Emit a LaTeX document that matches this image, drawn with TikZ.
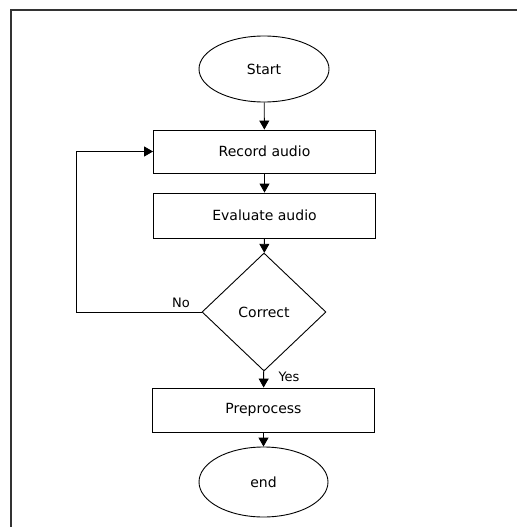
\documentclass[tikz,border=0pt]{standalone}
\usepackage{fontspec}
\setmainfont{DejaVu Sans}
\usetikzlibrary{
  shapes.geometric,
  arrows.meta
}

\tikzset{
  flowline/.style={line width=0.9pt, -{Triangle[width=10pt,length=9pt]}},
  terminal/.style={draw, line width=0.9pt, ellipse, inner sep=0pt,
    font=\fontsize{14}{16}\selectfont},
  procbox/.style={draw, line width=0.9pt, rectangle, inner sep=0pt,
    minimum width=222pt, font=\fontsize{14}{16}\selectfont},
  decision/.style={draw, line width=0.9pt, diamond, inner sep=0pt,
    minimum width=124pt, minimum height=118pt, font=\fontsize{14}{16}\selectfont},
  edgelabel/.style={font=\fontsize{13}{15}\selectfont}
}

\begin{document}
\begin{tikzpicture}[x=1pt, y=-1pt]
\useasboundingbox (0,0) rectangle (517,527);
\draw[line width=1.3pt, black!80] (11,527) -- (11,10) -- (517,10);

\node[terminal, minimum width=130pt, minimum height=66pt] (start) at (264,69) {Start};
\node[procbox, minimum height=43pt] (record) at (264.5,151.5) {Record audio};
\node[procbox, minimum height=45pt] (evaluate) at (264.5,215.5) {Evaluate audio};
\node[decision] (correct) at (264,312) {Correct};
\node[procbox, minimum height=44pt] (preprocess) at (263.5,410) {Preprocess};
\node[terminal, minimum width=129pt, minimum height=70pt] (end) at (263.5,482) {end};

\coordinate (loop) at (76,312);

\draw[flowline] (start) -- (record);
\draw[flowline] (record) -- (evaluate);
\draw[flowline] (evaluate) -- (correct);
\draw[flowline] (correct) -- (preprocess);
\draw[flowline] (preprocess) -- (end);
\draw[flowline] (correct.west) -- (loop) |- (record.west);

\node[edgelabel] (nolabel) at (181,303) {No};
\node[edgelabel] (yeslabel) at (289,377) {Yes};
\end{tikzpicture}
\end{document}
